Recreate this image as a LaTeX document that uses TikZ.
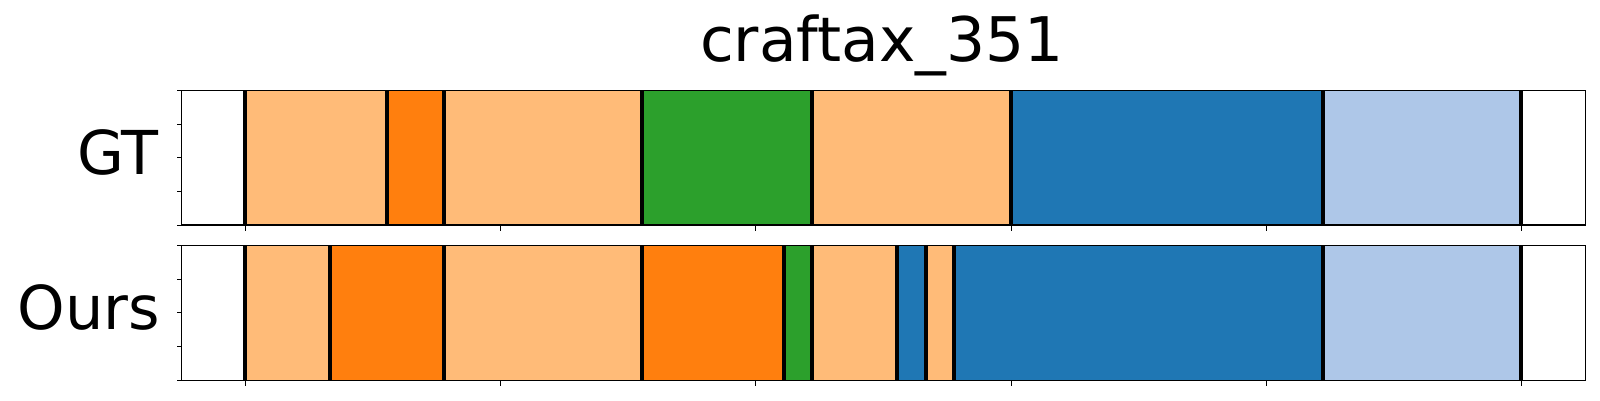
\documentclass[tikz,border=0pt]{standalone}
\usepackage{fontspec}
\setmainfont{DejaVu Sans}
\definecolor{tlo}{HTML}{FFBB78}
\definecolor{tor}{HTML}{FF7F0E}
\definecolor{tgr}{HTML}{2CA02C}
\definecolor{tbl}{HTML}{1F77B4}
\definecolor{tlb}{HTML}{AEC7E8}
\tikzset{
  segline/.style={line width=4pt, black},
  frame/.style={line width=1.1pt, black},
  tickline/.style={line width=0.8pt, black},
  lab/.style={anchor=base east, inner sep=0pt, font=\fontsize{60.5}{60.5}\selectfont},
}
\begin{document}
\begin{tikzpicture}[x=1pt,y=-1pt]
\useasboundingbox (0,0) rectangle (1600,400);
% title
\node[anchor=base, inner sep=0pt, font=\fontsize{61.5}{61.5}\selectfont] (title) at (882,61.7) {craftax\_351};
% GT panel
\foreach \a/\b/\c in {245/387/tlo,387/444/tor,444/642/tlo,642/812/tgr,812/1010.7/tlo,1010.7/1323/tbl,1323/1521.3/tlb}
  {\fill[\c] (\a,90.3) rectangle (\b,225);}
\foreach \x in {245,387,444,642,812,1010.7,1323,1521.3}
  {\draw[segline] (\x,90.3) -- (\x,225);}
\draw[frame] (181.7,90.3) rectangle (1585.3,225);
\foreach \k in {0,...,4} {\draw[tickline] (181.7,225-\k*33.675) -- (176.5,225-\k*33.675);}
\foreach \k in {0,...,5} {\draw[tickline] (245.4+\k*255.2,225) -- (245.4+\k*255.2,230.5);}
\node[lab] (gt) at (159,174.3) {GT};
% Ours panel
\foreach \a/\b/\c in {245/329.7/tlo,329.7/444/tor,444/642/tlo,642/783.7/tor,783.7/812/tgr,812/897/tlo,897/926/tbl,926/954.3/tlo,954.3/1323/tbl,1323/1521.3/tlb}
  {\fill[\c] (\a,245.3) rectangle (\b,380.3);}
\foreach \x in {245,329.7,444,642,783.7,812,897,926,954.3,1323,1521.3}
  {\draw[segline] (\x,245.3) -- (\x,380.3);}
\draw[frame] (181.7,245.3) rectangle (1585.3,380.3);
\foreach \k in {0,...,4} {\draw[tickline] (181.7,380.3-\k*33.75) -- (176.5,380.3-\k*33.75);}
\foreach \k in {0,...,5} {\draw[tickline] (245.4+\k*255.2,380.3) -- (245.4+\k*255.2,385.8);}
\node[lab] (ours) at (160.5,329.5) {Ours};
\end{tikzpicture}
\end{document}
